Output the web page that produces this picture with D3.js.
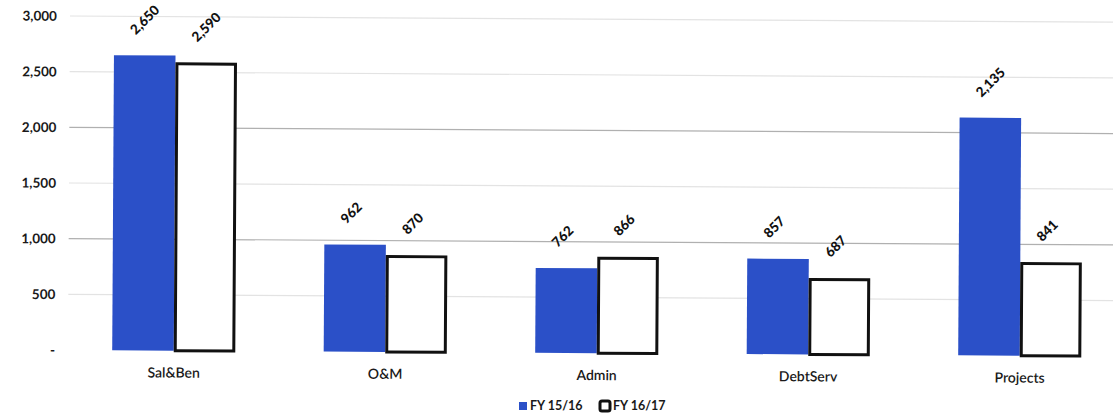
<!DOCTYPE html>
<html>
<head>
<meta charset="utf-8">
<script src="https://cdn.jsdelivr.net/npm/d3@7"></script>
<style>
  html, body { margin: 0; padding: 0; background: #fff; }
  svg { display: block; font-family: Lato, "Open Sans", sans-serif; }
</style>
</head>
<body>
<svg id="chart" width="1113" height="419"></svg>
<script>
// Budget by category, two fiscal years (thousands)
const categories = ["Sal&Ben", "O&M", "Admin", "DebtServ", "Projects"];
const seriesNames = ["FY 15/16", "FY 16/17"];
const fy1516 = [2650, 962, 762, 857, 2135];
const fy1617 = [2590, 870, 866, 687, 841];
const yTicks = [0, 500, 1000, 1500, 2000, 2500, 3000];
const yTickLabels = ["-", "500", "1,000", "1,500", "2,000", "2,500", "3,000"];

(function () {
  const svg = d3.select("#chart");
  const W = 1113;
  const plotLeft = 68, plotRight = 1125.5, plotTop = 16, plotBottom = 350;

  const x0 = d3.scaleBand().domain(categories).range([plotLeft, plotRight])
    .paddingInner(0.418).paddingOuter(0.209);
  const x1 = d3.scaleBand().domain(seriesNames).range([0, x0.bandwidth()]);
  const y = d3.scaleLinear().domain([0, 3000]).range([plotBottom, plotTop]);

  const fmt = d3.format(",");

  // slight tilt of the whole plot
  const g = svg.append("g").attr("transform", `rotate(0.34, ${plotLeft}, ${plotBottom})`);

  // gridlines
  g.append("g").selectAll("line").data(yTicks.filter(d => d > 0)).join("line")
    .attr("x1", plotLeft).attr("x2", W + 10)
    .attr("y1", d => y(d)).attr("y2", d => y(d))
    .attr("stroke", d => (d === 1000 || d === 2000) ? "#b0b0b0" : "#e3e3e3")
    .attr("stroke-width", 1.2);

  // y axis labels
  const yAxis = d3.axisLeft(y).tickValues(yTicks)
    .tickFormat((d, i) => yTickLabels[i]).tickSize(0).tickPadding(0);
  g.append("g").attr("transform", `translate(55,0)`).call(yAxis)
    .call(a => a.select(".domain").remove())
    .call(a => a.selectAll("text")
      .attr("font-family", "Lato, sans-serif")
      .attr("font-size", 13.5).attr("font-weight", 700).attr("fill", "#1a1a1a"));

  // x axis labels
  const xAxis = d3.axisBottom(x0).tickSize(0).tickPadding(0);
  g.append("g").attr("transform", `translate(0,${plotBottom + 17})`).call(xAxis)
    .call(a => a.select(".domain").remove())
    .call(a => a.selectAll("text")
      .attr("font-family", "Lato, sans-serif")
      .attr("font-size", 14).attr("font-weight", 600).attr("fill", "#1a1a1a"));

  const rows = categories.map((c, i) => ({ cat: c, vals: [fy1516[i], fy1617[i]] }));

  const groups = g.append("g").selectAll("g").data(rows).join("g")
    .attr("transform", d => `translate(${x0(d.cat)},0)`);

  // bars
  groups.selectAll("rect").data(d => d.vals.map((v, j) => ({ name: seriesNames[j], v, j })))
    .join("rect")
    .attr("x", d => x1(d.name) + (d.j === 1 ? 1.5 : 0))
    .attr("width", d => x1.bandwidth() - (d.j === 1 ? 3 : 0))
    .attr("y", d => y(d.v) + (d.j === 1 ? 1.5 : 0))
    .attr("height", d => plotBottom - y(d.v) - (d.j === 1 ? 1.5 : 0))
    .attr("fill", d => d.j === 0 ? "#2b50c8" : "#fff")
    .attr("stroke", d => d.j === 0 ? "none" : "#111")
    .attr("stroke-width", 3);

  // rotated value labels
  groups.selectAll("text.val").data(d => d.vals.map((v, j) => ({ name: seriesNames[j], v })))
    .join("text").attr("class", "val")
    .attr("transform", d => `translate(${x1(d.name) + x1.bandwidth() / 2 - 9},${y(d.v) - 20}) rotate(-45)`)
    .attr("font-family", "Lato, sans-serif")
    .attr("font-size", 13.5).attr("font-weight", 900).attr("fill", "#111")
    .text(d => fmt(d.v));

  // legend
  const legend = svg.append("g").attr("transform", "translate(519,410)")
    .attr("font-family", "Lato, sans-serif").attr("font-size", 12.5)
    .attr("font-weight", 700).attr("fill", "#1a1a1a");
  legend.append("rect").attr("x", 0).attr("y", -8).attr("width", 8).attr("height", 8).attr("fill", "#2b50c8");
  legend.append("text").attr("x", 11).attr("y", 0).text(seriesNames[0]);
  legend.append("rect").attr("x", 81).attr("y", -9).attr("width", 10).attr("height", 10)
    .attr("rx", 2).attr("fill", "#fff").attr("stroke", "#111").attr("stroke-width", 3);
  legend.append("text").attr("x", 94).attr("y", 0).text(seriesNames[1]);
})();
</script>
</body>
</html>
